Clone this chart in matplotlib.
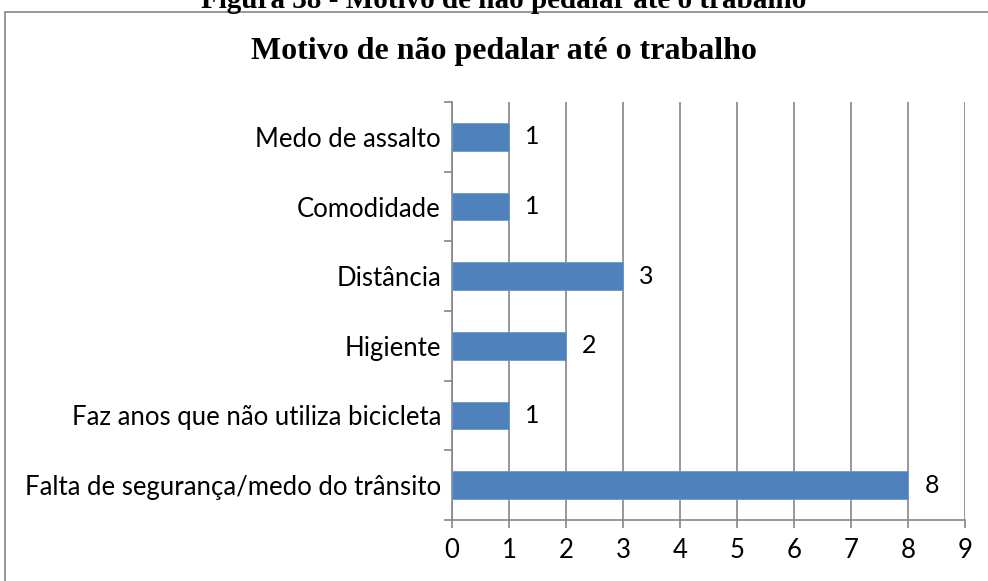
import matplotlib.pyplot as plt
from matplotlib.patches import Rectangle

motivos = ['Falta de segurança/medo do trânsito',
           'Faz anos que não utiliza bicicleta',
           'Higiente',
           'Distância',
           'Comodidade',
           'Medo de assalto']
respostas = [8, 1, 2, 3, 1, 1]
xticks = list(range(0, 10))

plt.rcParams['font.family'] = ['Lato', 'DejaVu Sans']
grey = '#868686'

fig = plt.figure(figsize=(9.88, 5.81), dpi=100)
ax = fig.add_axes([452 / 988, 1 - 520 / 581, (965 - 452) / 988, (520 - 102) / 581])

pos = range(len(motivos))
ax.barh(pos, respostas, height=0.4, color='#4F81BD', edgecolor='#6E97C8', linewidth=0.6, zorder=3)
for p, v in zip(pos, respostas):
    ax.annotate(str(v), (v, p), xytext=(17, 0), textcoords='offset points',
                va='center', ha='center', fontsize=18)

ax.set_xlim(0, 9)
ax.set_ylim(-0.5, len(motivos) - 0.5)
ax.set_xticks(xticks)
ax.set_yticks([i - 0.5 for i in range(len(motivos) + 1)], minor=False)
ax.set_yticklabels([])
ax.set_yticks(list(pos), minor=True)
ax.set_yticklabels(motivos, minor=True, fontsize=18.5)
ax.tick_params(axis='y', which='minor', length=0, pad=8)
ax.tick_params(axis='y', which='major', length=6, color=grey, width=1.2)
ax.tick_params(axis='x', length=6, color=grey, width=1.2, labelsize=18.5, pad=7)
ax.xaxis.grid(True, color=grey, linewidth=1.2, zorder=0)
ax.set_axisbelow(True)
for s in ['top', 'right']:
    ax.spines[s].set_visible(False)
for s in ['left', 'bottom']:
    ax.spines[s].set_color(grey)
    ax.spines[s].set_linewidth(1.2)

fig.text(504 / 988, 1 - 52 / 581, 'Motivo de não pedalar até o trabalho',
         ha='center', va='center', fontsize=23, fontweight='bold', family='Liberation Serif')
fig.text(504 / 988, 1 - 1 / 581, 'Figura 38 - Motivo de não pedalar até o trabalho',
         ha='center', va='center', fontsize=21, fontweight='bold', family='Liberation Serif')
fig.patches.append(Rectangle((5 / 988, -0.05), 1.1, 1 - 12 / 581 + 0.05,
                             transform=fig.transFigure, fill=False, edgecolor=grey, linewidth=1.2))

fig.savefig('out.png', dpi=100)
